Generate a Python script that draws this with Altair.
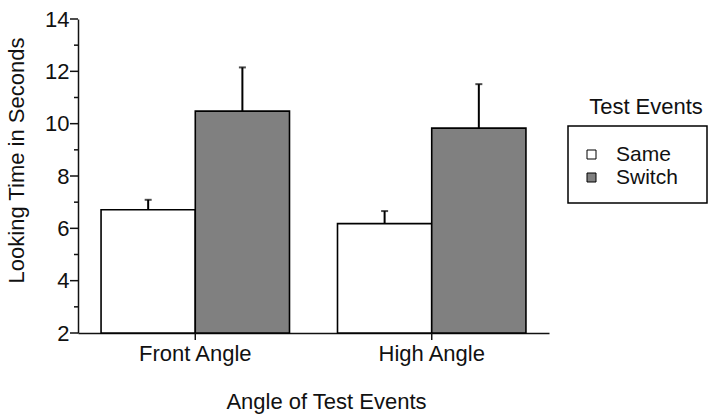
import altair as alt
import pandas as pd

angles = ["Front Angle", "High Angle"]
events = ["Same", "Switch"]
same_means = [6.71, 6.18]
switch_means = [10.48, 9.83]
same_err = [0.38, 0.48]
switch_err = [1.67, 1.68]
major_ticks = [2, 4, 6, 8, 10, 12, 14]
minor_ticks = [3, 5, 7, 9, 11, 13]

rows = []
for i, a in enumerate(angles):
    rows.append({"angle": a, "event": "Same", "mean": same_means[i], "top": same_means[i] + same_err[i]})
    rows.append({"angle": a, "event": "Switch", "mean": switch_means[i], "top": switch_means[i] + switch_err[i]})
df = pd.DataFrame(rows)

FONT = "Liberation Sans"
INK = "#111111"

x_axis = alt.Axis(
    labelAngle=0, ticks=False,
    domainColor=INK, domainWidth=1.5, grid=False,
    labelFont=FONT, labelFontSize=22, labelColor=INK, labelPadding=10,
    title="Angle of Test Events", titleFont=FONT, titleFontSize=22,
    titleFontWeight="normal", titleColor=INK,
    titleX=248, titleY=75, titleBaseline="alphabetic", titleAlign="center",
)
x_scale = alt.Scale(paddingInner=0.203, paddingOuter=0.0975)
x_enc = alt.X("angle:N", sort=angles, scale=x_scale, axis=x_axis)
xo_enc = alt.XOffset("event:N", sort=events, scale=alt.Scale(paddingInner=0, paddingOuter=0))

y_scale = alt.Scale(domain=[2, 14], nice=False, zero=False)
y_axis = alt.Axis(
    values=major_ticks, ticks=False,
    domain=True, domainColor=INK, domainWidth=1.5, grid=False,
    labelFont=FONT, labelFontSize=22, labelColor=INK, labelPadding=9,
    title="Looking Time in Seconds", titleFont=FONT, titleFontSize=22,
    titleFontWeight="normal", titleColor=INK,
    titleX=-62, titleY=141, titleAngle=270, titleAlign="center", titleBaseline="middle",
)

base = alt.Chart(df).encode(x=x_enc, xOffset=xo_enc)

bars = base.mark_bar(stroke="black", strokeWidth=1.6).encode(
    y=alt.Y("mean:Q", scale=y_scale, axis=y_axis),
    y2=alt.datum(2),
    fill=alt.Fill(
        "event:N", sort=events,
        scale=alt.Scale(domain=events, range=["white", "#808080"]),
        legend=alt.Legend(
            title=None, orient="none", legendX=503, legendY=125,
            symbolType="square", symbolSize=81, symbolStrokeColor="black",
            symbolStrokeWidth=1, labelFont=FONT, labelFontSize=21, labelColor=INK,
            labelOffset=14, rowPadding=1, padding=0,
        ),
    ),
)

rules = base.mark_rule(color="black", strokeWidth=2).encode(
    y=alt.Y("mean:Q", scale=y_scale), y2="top:Q"
)
caps = base.mark_tick(orient="horizontal", size=7, thickness=2, color="black").encode(
    y=alt.Y("top:Q", scale=y_scale)
)

# axis tick marks (drawn through the shared scales)
ymaj = alt.Chart(pd.DataFrame({"v": major_ticks})).mark_rule(color=INK, strokeWidth=1.5).encode(
    y=alt.Y("v:Q", scale=y_scale), x=alt.value(-8), x2=alt.value(0)
)
ymin = alt.Chart(pd.DataFrame({"v": minor_ticks})).mark_rule(color=INK, strokeWidth=1.5).encode(
    y=alt.Y("v:Q", scale=y_scale), x=alt.value(-4), x2=alt.value(0)
)
xt = alt.Chart(pd.DataFrame({"angle": angles})).mark_rule(color=INK, strokeWidth=1.5).encode(
    x=alt.X("angle:N", sort=angles, scale=x_scale), y=alt.value(314), y2=alt.value(321)
)

title_df = pd.DataFrame({"t": ["Test Events"]})
legend_title = alt.Chart(title_df).mark_text(
    font=FONT, fontSize=22, color=INK, align="center", baseline="alphabetic"
).encode(x=alt.value(568), y=alt.value(95), text="t:N")

legend_box = alt.Chart(title_df).mark_rect(
    fillOpacity=0, stroke="black", strokeWidth=1.5
).encode(x=alt.value(490), x2=alt.value(629), y=alt.value(107), y2=alt.value(184))

chart = alt.layer(bars, rules, caps, ymaj, ymin, xt, legend_title, legend_box).properties(
    width=471, height=314,
    background="white",
    autosize=alt.AutoSizeParams(type="none"),
    padding={"left": 78, "top": 19, "right": 165, "bottom": 82},
).configure_view(stroke=None)

chart.save("out.html", embed_options={"renderer": "svg", "actions": False})
